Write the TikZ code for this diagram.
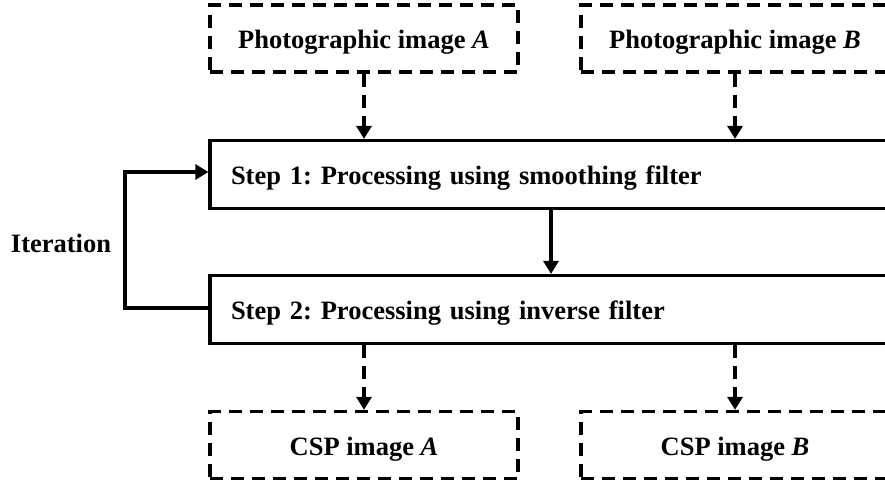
\documentclass[tikz,border=0pt]{standalone}
\usepackage{fontspec}
\setmainfont{Liberation Serif}
\usetikzlibrary{arrows.meta}
\frenchspacing
\begin{document}
\begin{tikzpicture}[x=1pt,y=-1pt,
  every node/.style={font=\fontsize{26.5}{30}\selectfont\bfseries,text height=24pt,text depth=4pt},
  dbox/.style={draw,line width=3.3pt,dash pattern=on 13pt off 8pt,minimum width=308pt,minimum height=67pt,inner sep=0pt},
  sbox/.style={draw,line width=3.2pt,minimum width=682pt,minimum height=68pt,inner sep=0pt,text width=640pt,align=left},
  darr/.style={line width=3.3pt,dash pattern=on 13pt off 8pt,-{Triangle[width=15pt,length=13pt]}},
  sarr/.style={line width=3.2pt,-{Triangle[width=15pt,length=13pt]}}]
\useasboundingbox (0,0) rectangle (885,486);
\clip (0,0) rectangle (885,486);
\fill[white] (0,0) rectangle (885,486);
\node[dbox] (pa) at (364,38.5) {Photographic image \textit{A}};
\node[dbox] (pb) at (735,38.5) {Photographic image \textit{B}};
\node[sbox] (s1) at (551,174.5) {Step 1: Processing using smoothing filter};
\node[sbox] (s2) at (551,309.5) {Step 2: Processing using inverse filter};
\node[dbox] (ca) at (364,445) {CSP image \textit{A}};
\node[dbox] (cb) at (735,445) {CSP image \textit{B}};
\node (it) at (61,242) {Iteration};
\coordinate (lp) at (125,0);
\draw[darr] (pa.south) -- (pa.south |- s1.north);
\draw[darr] (pb.south) -- (pb.south |- s1.north);
\draw[sarr] (s1.south) -- (s2.north);
\draw[darr] (s2.south -| ca.north) -- (ca.north);
\draw[darr] (s2.south -| cb.north) -- (cb.north);
\draw[sarr] ([yshift=1.5pt]s2.west) -- ([yshift=1.5pt]s2.west -| lp) -- ([yshift=2.5pt]s1.west -| lp) -- ([yshift=2.5pt]s1.west);
\end{tikzpicture}
\end{document}
